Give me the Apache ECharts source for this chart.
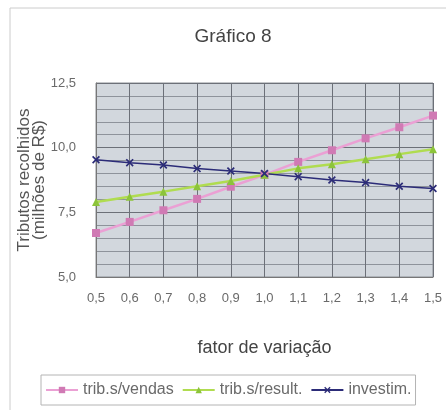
<!DOCTYPE html>
<html>
<head>
<meta charset="utf-8">
<script src="https://cdn.jsdelivr.net/npm/echarts@6/dist/echarts.min.js"></script>
<style>html,body{margin:0;padding:0;background:#fff}#c{width:446px;height:410px}</style>
</head>
<body>
<div id="c"></div>
<script>
var categories = ['0,5','0,6','0,7','0,8','0,9','1,0','1,1','1,2','1,3','1,4','1,5'];
var tribVendas = [6.70, 7.13, 7.58, 8.02, 8.49, 8.95, 9.45, 9.90, 10.36, 10.79, 11.24];
var tribResult = [7.90, 8.10, 8.30, 8.51, 8.71, 8.95, 9.20, 9.36, 9.55, 9.75, 9.94];
var investim   = [9.53, 9.42, 9.33, 9.19, 9.10, 9.00, 8.88, 8.75, 8.65, 8.51, 8.42];
var seriesNames = ['trib.s/vendas', 'trib.s/result.', 'investim.'];

var chart = echarts.init(document.getElementById('c'));
var xPath = 'path://M0,1.5 L1.5,0 L5,3.5 L8.5,0 L10,1.5 L6.5,5 L10,8.5 L8.5,10 L5,6.5 L1.5,10 L0,8.5 L3.5,5 Z';
var font = 'Liberation Sans, Arial, sans-serif';
chart.setOption({
  animation: false,
  backgroundColor: '#ffffff',
  title: {
    text: 'Gráfico 8', left: 228, top: 22, textAlign: 'center',
    textStyle: {fontFamily: font, fontSize: 19, fontWeight: 'normal', color: '#444'}
  },
  graphic: [{
    type: 'rect', shape: {x: 10, y: 8, width: 440, height: 410},
    style: {fill: 'none', stroke: '#cccccc', lineWidth: 1}, silent: true, z: -1
  }],
  grid: {left: 96, right: 13, top: 83, bottom: 133, show: true,
    backgroundColor: '#d2d7dd', borderColor: '#8a8e94', borderWidth: 1},
  legend: {
    data: seriesNames, left: 41, top: 375,
    itemGap: 8, itemWidth: 32, itemHeight: 8,
    padding: [7, 4, 7, 4],
    borderColor: '#b4b4b4', borderWidth: 1, borderRadius: 0,
    textStyle: {fontFamily: font, fontSize: 16, color: '#6a6a6a', padding: [0, 0, 0, 0]}
  },
  xAxis: {
    type: 'category', data: categories, boundaryGap: false,
    name: 'fator de variação', nameLocation: 'middle', nameGap: 62,
    nameTextStyle: {fontFamily: font, fontSize: 18, color: '#444'},
    axisLine: {lineStyle: {color: '#777'}},
    axisTick: {show: false},
    axisLabel: {fontFamily: font, fontSize: 13, color: '#6a6a6a', margin: 15},
    splitLine: {show: true, lineStyle: {color: '#6c7078', width: 1}}
  },
  yAxis: {
    type: 'value', min: 5, max: 12.5, interval: 2.5,
    name: 'Tributos recolhidos\n(milhões de R$)', nameLocation: 'middle', nameGap: 49, nameRotate: 90,
    nameMoveOverlap: false,
    nameTextStyle: {fontFamily: font, fontSize: 17, color: '#555', lineHeight: 15},
    axisLine: {show: true, lineStyle: {color: '#777'}},
    axisTick: {show: false},
    axisLabel: {fontFamily: font, fontSize: 13, color: '#6a6a6a', margin: 20,
      formatter: function (v) { return v.toFixed(1).replace('.', ','); }},
    splitLine: {show: true, lineStyle: {color: '#6c7078', width: 1}},
    minorTick: {show: false, splitNumber: 5},
    minorSplitLine: {show: true, lineStyle: {color: '#8e939b', width: 1}}
  },
  series: [
    {name: seriesNames[0], type: 'line', data: tribVendas, symbol: 'rect', symbolSize: 8,
      lineStyle: {color: '#eba0d4', width: 2.5}, itemStyle: {color: '#d07ab4'}},
    {name: seriesNames[1], type: 'line', data: tribResult, symbol: 'triangle', symbolSize: 8,
      lineStyle: {color: '#b0dc50', width: 2.5}, itemStyle: {color: '#8cc43a'}},
    {name: seriesNames[2], type: 'line', data: investim, symbol: xPath, symbolSize: 8,
      lineStyle: {color: '#2c2c78', width: 1.5}, itemStyle: {color: '#2c2c78'}}
  ]
});
</script>
</body>
</html>
